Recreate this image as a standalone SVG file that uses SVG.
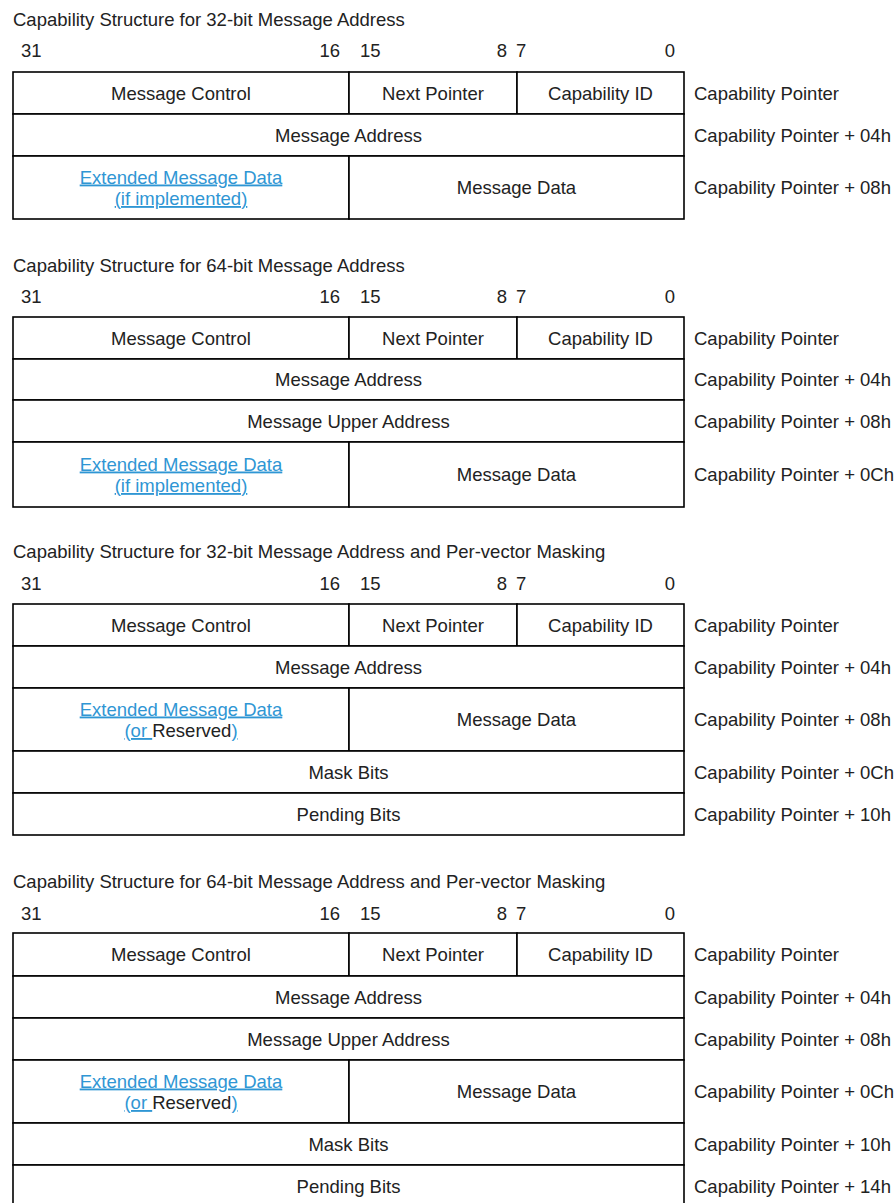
<svg xmlns="http://www.w3.org/2000/svg" width="896" height="1203" viewBox="0 0 896 1203">
<style>
text{font-family:"Liberation Sans",Arial,sans-serif;font-size:18.5px;fill:#222}
.c{text-anchor:middle}
.e{text-anchor:end}
.lnk{fill:#2f96d4;text-decoration:underline}
.blk{fill:#222;text-decoration:none}
rect.cell{fill:#fff;stroke:#000;stroke-width:1.6}
</style>
<rect width="896" height="1203" fill="#fff"/>

<!-- Section 1 -->
<g id="s1">
<text x="13" y="26">Capability Structure for 32-bit Message Address</text>
<g id="s1-bits"><text x="21" y="57">31</text><text class="e" x="340" y="57">16</text><text x="360" y="57">15</text><text class="e" x="507" y="57">8</text><text x="516" y="57">7</text><text class="e" x="675" y="57">0</text></g>
<g id="s1-mc"><rect class="cell" x="13" y="72" width="336" height="42"/><text class="c" x="181" y="99.5">Message Control</text></g>
<g id="s1-np"><rect class="cell" x="349" y="72" width="168" height="42"/><text class="c" x="433" y="99.5">Next Pointer</text></g>
<g id="s1-cid"><rect class="cell" x="517" y="72" width="167" height="42"/><text class="c" x="600.5" y="99.5">Capability ID</text></g>
<g id="s1-ma"><rect class="cell" x="13" y="114" width="671" height="42"/><text class="c" x="348.5" y="141.5">Message Address</text></g>
<g id="s1-emd"><rect class="cell" x="13" y="156" width="336" height="63"/><text class="c lnk" x="181" y="183.5">Extended Message Data</text><text class="c lnk" x="181" y="205">(if implemented)</text></g>
<g id="s1-md"><rect class="cell" x="349" y="156" width="335" height="63"/><text class="c" x="516.5" y="194">Message Data</text></g>
<g id="s1-labels"><text x="694" y="99.5">Capability Pointer</text><text x="694" y="141.5">Capability Pointer + 04h</text><text x="694" y="194">Capability Pointer + 08h</text></g>
</g>

<!-- Section 2 -->
<g id="s2">
<text x="13" y="272">Capability Structure for 64-bit Message Address</text>
<g id="s2-bits"><text x="21" y="303">31</text><text class="e" x="340" y="303">16</text><text x="360" y="303">15</text><text class="e" x="507" y="303">8</text><text x="516" y="303">7</text><text class="e" x="675" y="303">0</text></g>
<g id="s2-mc"><rect class="cell" x="13" y="317" width="336" height="42"/><text class="c" x="181" y="344.5">Message Control</text></g>
<g id="s2-np"><rect class="cell" x="349" y="317" width="168" height="42"/><text class="c" x="433" y="344.5">Next Pointer</text></g>
<g id="s2-cid"><rect class="cell" x="517" y="317" width="167" height="42"/><text class="c" x="600.5" y="344.5">Capability ID</text></g>
<g id="s2-ma"><rect class="cell" x="13" y="359" width="671" height="41"/><text class="c" x="348.5" y="386">Message Address</text></g>
<g id="s2-mua"><rect class="cell" x="13" y="400" width="671" height="42"/><text class="c" x="348.5" y="427.5">Message Upper Address</text></g>
<g id="s2-emd"><rect class="cell" x="13" y="442" width="336" height="65"/><text class="c lnk" x="181" y="470.5">Extended Message Data</text><text class="c lnk" x="181" y="492">(if implemented)</text></g>
<g id="s2-md"><rect class="cell" x="349" y="442" width="335" height="65"/><text class="c" x="516.5" y="481">Message Data</text></g>
<g id="s2-labels"><text x="694" y="344.5">Capability Pointer</text><text x="694" y="386">Capability Pointer + 04h</text><text x="694" y="427.5">Capability Pointer + 08h</text><text x="694" y="481">Capability Pointer + 0Ch</text></g>
</g>

<!-- Section 3 -->
<g id="s3">
<text x="13" y="558">Capability Structure for 32-bit Message Address and Per-vector Masking</text>
<g id="s3-bits"><text x="21" y="590">31</text><text class="e" x="340" y="590">16</text><text x="360" y="590">15</text><text class="e" x="507" y="590">8</text><text x="516" y="590">7</text><text class="e" x="675" y="590">0</text></g>
<g id="s3-mc"><rect class="cell" x="13" y="604" width="336" height="42"/><text class="c" x="181" y="631.5">Message Control</text></g>
<g id="s3-np"><rect class="cell" x="349" y="604" width="168" height="42"/><text class="c" x="433" y="631.5">Next Pointer</text></g>
<g id="s3-cid"><rect class="cell" x="517" y="604" width="167" height="42"/><text class="c" x="600.5" y="631.5">Capability ID</text></g>
<g id="s3-ma"><rect class="cell" x="13" y="646" width="671" height="42"/><text class="c" x="348.5" y="673.5">Message Address</text></g>
<g id="s3-emd"><rect class="cell" x="13" y="688" width="336" height="63"/><text class="c lnk" x="181" y="715.5">Extended Message Data</text><text class="c" x="181" y="737"><tspan class="lnk">(or </tspan><tspan class="blk">Reserved</tspan><tspan class="lnk">)</tspan></text></g>
<g id="s3-md"><rect class="cell" x="349" y="688" width="335" height="63"/><text class="c" x="516.5" y="726">Message Data</text></g>
<g id="s3-mask"><rect class="cell" x="13" y="751" width="671" height="42"/><text class="c" x="348.5" y="778.5">Mask Bits</text></g>
<g id="s3-pend"><rect class="cell" x="13" y="793" width="671" height="42"/><text class="c" x="348.5" y="820.5">Pending Bits</text></g>
<g id="s3-labels"><text x="694" y="631.5">Capability Pointer</text><text x="694" y="673.5">Capability Pointer + 04h</text><text x="694" y="726">Capability Pointer + 08h</text><text x="694" y="778.5">Capability Pointer + 0Ch</text><text x="694" y="820.5">Capability Pointer + 10h</text></g>
</g>

<!-- Section 4 -->
<g id="s4">
<text x="13" y="888">Capability Structure for 64-bit Message Address and Per-vector Masking</text>
<g id="s4-bits"><text x="21" y="920">31</text><text class="e" x="340" y="920">16</text><text x="360" y="920">15</text><text class="e" x="507" y="920">8</text><text x="516" y="920">7</text><text class="e" x="675" y="920">0</text></g>
<g id="s4-mc"><rect class="cell" x="13" y="933" width="336" height="43"/><text class="c" x="181" y="961">Message Control</text></g>
<g id="s4-np"><rect class="cell" x="349" y="933" width="168" height="43"/><text class="c" x="433" y="961">Next Pointer</text></g>
<g id="s4-cid"><rect class="cell" x="517" y="933" width="167" height="43"/><text class="c" x="600.5" y="961">Capability ID</text></g>
<g id="s4-ma"><rect class="cell" x="13" y="976" width="671" height="42"/><text class="c" x="348.5" y="1003.5">Message Address</text></g>
<g id="s4-mua"><rect class="cell" x="13" y="1018" width="671" height="42"/><text class="c" x="348.5" y="1045.5">Message Upper Address</text></g>
<g id="s4-emd"><rect class="cell" x="13" y="1060" width="336" height="63"/><text class="c lnk" x="181" y="1087.5">Extended Message Data</text><text class="c" x="181" y="1109"><tspan class="lnk">(or </tspan><tspan class="blk">Reserved</tspan><tspan class="lnk">)</tspan></text></g>
<g id="s4-md"><rect class="cell" x="349" y="1060" width="335" height="63"/><text class="c" x="516.5" y="1098">Message Data</text></g>
<g id="s4-mask"><rect class="cell" x="13" y="1123" width="671" height="42"/><text class="c" x="348.5" y="1150.5">Mask Bits</text></g>
<g id="s4-pend"><rect class="cell" x="13" y="1165" width="671" height="44"/><text class="c" x="348.5" y="1192.5">Pending Bits</text></g>
<g id="s4-labels"><text x="694" y="961">Capability Pointer</text><text x="694" y="1003.5">Capability Pointer + 04h</text><text x="694" y="1045.5">Capability Pointer + 08h</text><text x="694" y="1098">Capability Pointer + 0Ch</text><text x="694" y="1150.5">Capability Pointer + 10h</text><text x="694" y="1192.5">Capability Pointer + 14h</text></g>
</g>
</svg>
